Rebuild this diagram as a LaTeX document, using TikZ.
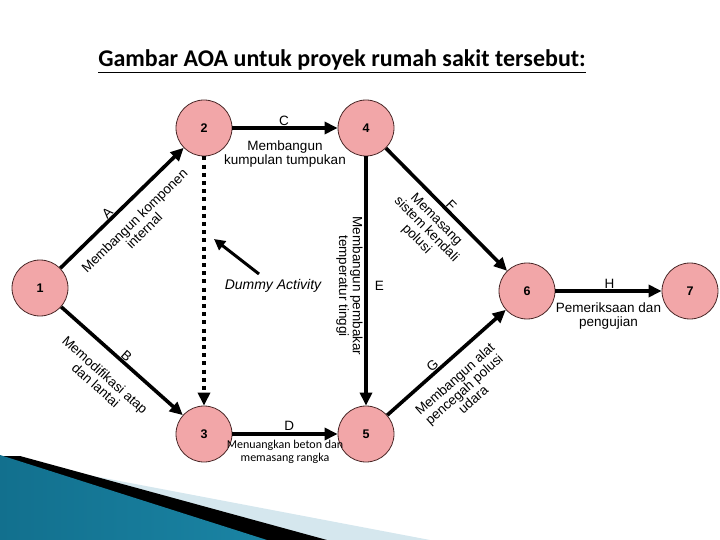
\documentclass[tikz,border=0pt]{standalone}
\usepackage{fontspec}
\setmainfont{Liberation Sans}
\newfontfamily\slidefont{Carlito}
\usepackage{tikz}
\usetikzlibrary{arrows.meta, calc}
\usepackage{xcolor}
\definecolor{eventfill}{HTML}{F2A6A8}
\definecolor{eventline}{HTML}{4A2828}
\definecolor{tealdark}{HTML}{12708E}
\definecolor{teallight}{HTML}{62C3E2}
\definecolor{tealmid}{HTML}{1A84A4}
\definecolor{bandlight}{HTML}{D5E7EE}

\tikzset{
  event/.style={circle, draw=eventline, fill=eventfill, line width=0.8pt, minimum size=56pt, inner sep=0pt, font=\bfseries\fontsize{12.5}{12.5}\selectfont},
  act/.style={line width=3.6pt, -{Triangle[length=13pt, width=12pt]}},
  dummy/.style={act, dash pattern=on 4pt off 4.2pt},
  tag/.style={font=\fontsize{13.5}{13.5}\selectfont, inner sep=0.3pt},
  lbl/.style={font=\fontsize{13.5}{13.8}\selectfont, align=center, inner sep=11pt},
}

\begin{document}
\begin{tikzpicture}[x=1pt, y=-1pt]
\useasboundingbox (0,0) rectangle (720,540);

\node (title) at (342,61) {\slidefont\bfseries\fontsize{24}{27}\selectfont\underline{Gambar AOA untuk proyek rumah sakit tersebut:}};

\node[event] (n1) at (40,288) {1};
\node[event] (n2) at (204,128) {2};
\node[event] (n3) at (204,434) {3};
\node[event] (n4) at (366,128) {4};
\node[event] (n5) at (366,434) {5};
\node[event] (n6) at (527,291) {6};
\node[event] (n7) at (690,291) {7};

\draw[act] (n1) -- node[tag, sloped, above, pos=0.42] {A} node[lbl, sloped, below, pos=0.5] {Membangun komponen\\internal} (n2);
\draw[act] (n1) -- node[tag, sloped, above, pos=0.5] {B} node[lbl, sloped, below, pos=0.48, inner sep=15pt] {Memodifikasi atap\\dan lantai} (n3);
\draw[act] (n2) -- node[tag, above, pos=0.49] {C} node[lbl, below] {Membangun\\kumpulan tumpukan} (n4);
\draw[act] (n3) -- node[tag, above, pos=0.54, inner sep=1.5pt] {D} node[lbl, below, font=\slidefont\fontsize{12}{13}\selectfont, inner sep=4pt] {Menuangkan beton dan\\memasang rangka} (n5);
\draw[act] (n4) -- node[tag, right, pos=0.52, inner sep=7pt] {E} node[lbl, rotate=-90, anchor=north, pos=0.52, inner sep=1.5pt] {Membangun pembakar\\temperatur tinggi} (n5);
\draw[act] (n4) -- node[tag, sloped, above, pos=0.5] {F} node[lbl, sloped, below, pos=0.5, inner sep=7pt] {Memasang\\sistem kendali\\polusi} (n6);
\draw[act] (n5) -- node[tag, sloped, above, pos=0.42] {G} node[lbl, sloped, below, pos=0.47] {Membangun alat\\pencegah polusi\\udara} (n6);
\draw[act] (n6) -- node[tag, above, pos=0.51] {H} node[lbl, below, inner sep=10pt] {Pemeriksaan dan\\pengujian} (n7);
\draw[dummy] (n2) -- (n3);

\node[font=\itshape\fontsize{14}{14}\selectfont] (dlabel) at (273,286) {Dummy Activity};
\coordinate (dtail) at (259,274);
\coordinate (dhead) at (214,239);
\draw[line width=3pt, -{Triangle[length=11pt, width=11pt]}] (dtail) -- (dhead);

\fill[bandlight] (88,475) -- (430,540) -- (250,540) -- cycle;
\fill[black] (20,456) -- (327,540) -- (0,540) -- (0,456) -- cycle;
\shade[left color=tealdark, middle color=teallight, right color=tealmid] (0,455) -- (267,540) -- (0,540) -- cycle;
\end{tikzpicture}
\end{document}
